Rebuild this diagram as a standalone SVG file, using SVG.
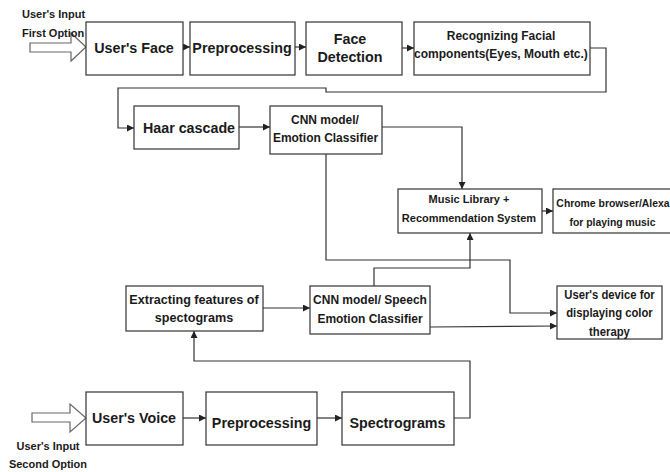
<svg xmlns="http://www.w3.org/2000/svg" width="670" height="472" viewBox="0 0 670 472">
<defs>
<style>
.box{fill:#fff;stroke:#333;stroke-width:1.2}
.t{font-family:"Liberation Sans",Arial,sans-serif;font-weight:bold;fill:#1a1a1a;text-anchor:middle;transform-box:fill-box;transform-origin:center;transform:scaleY(1.07)}
.big{font-size:14.3px}
.mid{font-size:12px}
.sm{font-size:11px}
.lbl{font-family:"Liberation Sans",Arial,sans-serif;font-weight:bold;fill:#1a1a1a;font-size:11px;transform-box:fill-box;transform-origin:center;transform:scaleY(1.07)}
.c{fill:none;stroke:#333;stroke-width:1.2}
.blk{fill:#fff;stroke:#666;stroke-width:1.2}
</style>
<marker id="ah" markerWidth="7" markerHeight="7" refX="7" refY="3.5" orient="auto" markerUnits="userSpaceOnUse">
<path d="M0,0 L7,3.5 L0,7 z" fill="#222"/>
</marker>
</defs>
<rect width="670" height="472" fill="#fff"/>

<g id="connectors">
<polygon class="blk" points="30,43 71,43 71,33 86,47 71,61 71,52 30,52"/>
<polygon class="blk" points="32,413 70,413 70,404 86,418 70,432 70,422 32,422"/>
<path class="c" d="M183,47 H190" marker-end="url(#ah)"/>
<path class="c" d="M295,47 H306" marker-end="url(#ah)"/>
<path class="c" d="M402,48 H414" marker-end="url(#ah)"/>
<path class="c" d="M590,48 H606 V92 H326 V88 H118 V128 H134" marker-end="url(#ah)"/>
<path class="c" d="M239,127 H270" marker-end="url(#ah)"/>
<path class="c" d="M382,127 H462 V189" marker-end="url(#ah)"/>
<path class="c" d="M326,154 V260 H510 V313 H557" marker-end="url(#ah)"/>
<path class="c" d="M542,211 H553" marker-end="url(#ah)"/>
<path class="c" d="M263,308 H310" marker-end="url(#ah)"/>
<path class="c" d="M374,286 V268 H470 V233" marker-end="url(#ah)"/>
<path class="c" d="M430,327 L557,326" marker-end="url(#ah)"/>
<path class="c" d="M454,418 H470 V361 H194 V331" marker-end="url(#ah)"/>
<path class="c" d="M183,418 H206" marker-end="url(#ah)"/>
<path class="c" d="M317,418 H342" marker-end="url(#ah)"/>
</g>

<g id="labels">
<text class="lbl" x="22" y="18">User's Input</text>
<text class="lbl" x="22" y="37">First Option</text>
<text class="lbl" x="48" y="450" text-anchor="middle">User's Input</text>
<text class="lbl" x="48" y="468" text-anchor="middle">Second Option</text>
</g>

<g id="users-face">
<rect class="box" x="86" y="22" width="97" height="53"/>
<text class="t big" x="134" y="53">User's Face</text>
</g>
<g id="preprocessing1">
<rect class="box" x="190" y="22" width="105" height="53"/>
<text class="t big" x="242" y="53">Preprocessing</text>
</g>
<g id="face-detection">
<rect class="box" x="306" y="22" width="96" height="53"/>
<text class="t big" x="350" y="44">Face</text>
<text class="t big" x="350" y="62">Detection</text>
</g>
<g id="recognizing">
<rect class="box" x="414" y="22" width="176" height="53"/>
<text class="t mid" x="501" y="40">Recognizing Facial</text>
<text class="t mid" x="501" y="58">components(Eyes, Mouth etc.)</text>
</g>
<g id="haar">
<rect class="box" x="134" y="106" width="105" height="43"/>
<text class="t big" x="189" y="133">Haar cascade</text>
</g>
<g id="cnn-face">
<rect class="box" x="270" y="106" width="112" height="48"/>
<text class="t mid" x="325" y="124">CNN model/</text>
<text class="t mid" x="325.5" y="142">Emotion Classifier</text>
</g>
<g id="music">
<rect class="box" x="398" y="189" width="144" height="44"/>
<text class="t sm" x="469" y="203">Music Library +</text>
<text class="t sm" x="469" y="222">Recommendation System</text>
</g>
<g id="chrome">
<rect class="box" x="553" y="189" width="130" height="44"/>
<text class="t" style="font-size:10.4px" x="613" y="207">Chrome browser/Alexa</text>
<text class="t" style="font-size:10.4px" x="612.5" y="226">for playing music</text>
</g>
<g id="extracting">
<rect class="box" x="126" y="286" width="137" height="45"/>
<text class="t" style="font-size:12.6px" x="194" y="304">Extracting features of</text>
<text class="t" style="font-size:12.6px" x="194" y="322">spectograms</text>
</g>
<g id="cnn-speech">
<rect class="box" x="310" y="286" width="120" height="48"/>
<text class="t mid" x="370" y="304">CNN model/ Speech</text>
<text class="t mid" x="370" y="323">Emotion Classifier</text>
</g>
<g id="device">
<rect class="box" x="557" y="286" width="105" height="53"/>
<text class="t" style="font-size:11.3px" x="609.5" y="299">User's device for</text>
<text class="t" style="font-size:11.3px" x="609.5" y="317">displaying color</text>
<text class="t" style="font-size:11.3px" x="609.5" y="336">therapy</text>
</g>
<g id="users-voice">
<rect class="box" x="86" y="392" width="97" height="53"/>
<text class="t big" x="134" y="423">User's Voice</text>
</g>
<g id="preprocessing2">
<rect class="box" x="206" y="392" width="111" height="53"/>
<text class="t big" x="261.5" y="428">Preprocessing</text>
</g>
<g id="spectrograms">
<rect class="box" x="342" y="392" width="112" height="53"/>
<text class="t big" x="397.5" y="428">Spectrograms</text>
</g>
</svg>
